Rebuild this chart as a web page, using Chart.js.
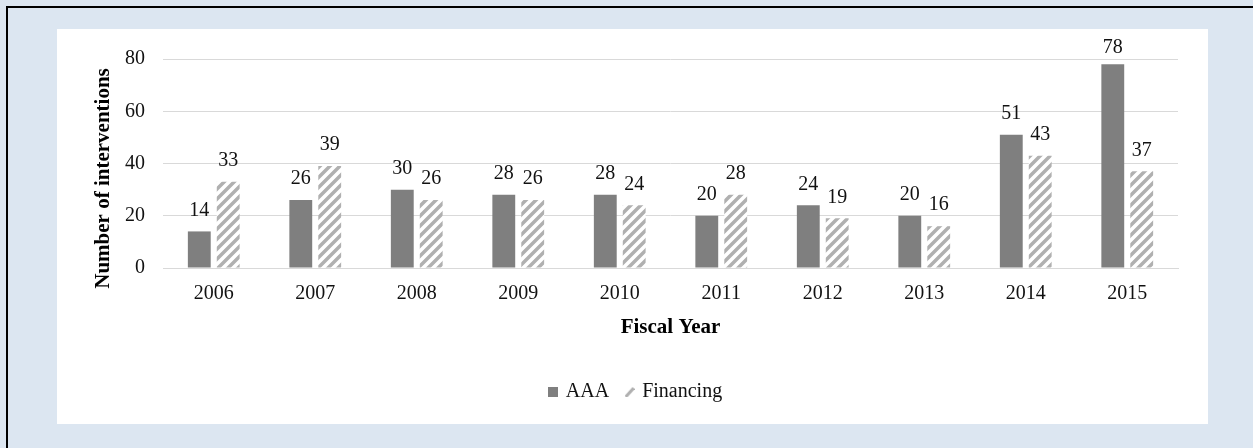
<!DOCTYPE html>
<html>
<head>
<meta charset="utf-8">
<script src="https://cdn.jsdelivr.net/npm/chart.js@4/dist/chart.umd.min.js"></script>
<style>
  html, body { margin: 0; padding: 0; }
  body { width: 1253px; height: 448px; background: #dce6f1; position: relative; overflow: hidden; }
  .frame { position: absolute; left: 6px; top: 6px; right: -10px; bottom: -10px; border-top: 2px solid #000; border-left: 2px solid #000; }
  .panel { position: absolute; left: 57px; top: 29px; width: 1151px; height: 395px; background: #fff; }
</style>
</head>
<body>
<div class="frame"></div>
<div class="panel"><canvas id="chart"></canvas></div>
<script>
const years = ['2006', '2007', '2008', '2009', '2010', '2011', '2012', '2013', '2014', '2015'];
const aaa = [14, 26, 30, 28, 28, 20, 24, 20, 51, 78];
const financing = [33, 39, 26, 26, 24, 28, 19, 16, 43, 37];
const yTicks = [0, 20, 40, 60, 80];

const serif = "'Liberation Serif', 'Times New Roman', serif";

// diagonal hatch used for the Financing bars
function makeHatch() {
  const c = document.createElement('canvas');
  c.width = 10; c.height = 10;
  const g = c.getContext('2d');
  g.fillStyle = '#fff';
  g.fillRect(0, 0, 10, 10);
  g.strokeStyle = '#b0b0b0';
  g.lineWidth = 3.5;
  g.beginPath();
  g.moveTo(-5, 5); g.lineTo(5, -5);
  g.moveTo(0, 10); g.lineTo(10, 0);
  g.moveTo(5, 15); g.lineTo(15, 5);
  g.stroke();
  return g.createPattern(c, 'repeat');
}

function legendIcon(kind) {
  const c = document.createElement('canvas');
  c.width = 10; c.height = 10;
  const g = c.getContext('2d');
  if (kind === 'box') {
    g.fillStyle = '#7f7f7f';
    g.fillRect(0, 0, 10, 10);
  } else {
    g.strokeStyle = '#b0b0b0';
    g.lineWidth = 3;
    g.beginPath();
    g.moveTo(1, 10); g.lineTo(9, 1);
    g.stroke();
  }
  return c;
}

const hatch = makeHatch();

const valueLabels = {
  id: 'valueLabels',
  afterDatasetsDraw(chart) {
    const ctx = chart.ctx;
    ctx.save();
    ctx.font = '20px ' + serif;
    ctx.fillStyle = '#111';
    ctx.textAlign = 'center';
    ctx.textBaseline = 'middle';
    chart.data.datasets.forEach((ds, i) => {
      chart.getDatasetMeta(i).data.forEach((bar, j) => {
        const y = Math.max(bar.y - 21, chart.chartArea.top - 11);
        ctx.fillText(ds.data[j], bar.x, y);
      });
    });
    ctx.restore();
  }
};

const yTitle = {
  id: 'yTitle',
  afterDraw(chart) {
    const ctx = chart.ctx;
    ctx.save();
    ctx.font = 'bold 21px ' + serif;
    ctx.fillStyle = '#000';
    ctx.textAlign = 'center';
    ctx.textBaseline = 'middle';
    ctx.translate(47, 149.5);
    ctx.rotate(-Math.PI / 2);
    ctx.fillText('Number of interventions', 0, 0);
    ctx.restore();
  }
};

new Chart(document.getElementById('chart'), {
  type: 'bar',
  data: {
    labels: years,
    datasets: [
      { label: 'AAA', data: aaa, backgroundColor: '#7f7f7f', pointStyle: legendIcon('box') },
      { label: 'Financing', data: financing, backgroundColor: hatch, pointStyle: legendIcon('slash') }
    ]
  },
  options: {
    responsive: true,
    maintainAspectRatio: false,
    animation: false,
    layout: { padding: { left: 38, right: 30, top: 29, bottom: 12 } },
    datasets: { bar: { categoryPercentage: 0.57, barPercentage: 0.79 } },
    plugins: {
      tooltip: { enabled: false },
      legend: {
        position: 'bottom',
        labels: {
          usePointStyle: true,
          boxWidth: 5,
          boxHeight: 10,
          padding: 18,
          color: '#111',
          font: { family: serif, size: 20 }
        }
      }
    },
    scales: {
      x: {
        grid: { display: false, drawTicks: false },
        border: { display: true, color: '#d9d9d9', width: 1 },
        ticks: { color: '#111', padding: 14, font: { family: serif, size: 20 } },
        title: {
          display: true,
          text: 'Fiscal Year',
          color: '#000',
          font: { family: serif, size: 21, weight: 'bold' },
          padding: { top: 0, bottom: 24 }
        },
        afterFit(scale) { scale.height = 96; }
      },
      y: {
        min: 0,
        max: 80,
        afterBuildTicks(scale) { scale.ticks = yTicks.map(v => ({ value: v })); },
        grid: { color: '#d9d9d9', lineWidth: 1, drawTicks: false },
        border: { display: false },
        ticks: { color: '#111', padding: 18, font: { family: serif, size: 20 } },
        afterFit(scale) { scale.width = 68; }
      }
    }
  },
  plugins: [valueLabels, yTitle]
});
</script>
</body>
</html>
